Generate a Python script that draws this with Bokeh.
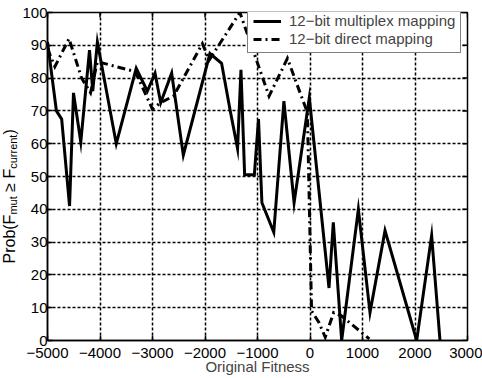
from bokeh.plotting import figure
from bokeh.layouts import row
from bokeh.models import Range1d, FixedTicker, Legend, LegendItem
from bokeh.core.properties import value
from bokeh.embed import file_html
from bokeh.resources import INLINE

# ---------------- data ----------------
x_multiplex = [-5000, -4830, -4730, -4580, -4505, -4366, -4200, -4138, -4050, -3690,
               -3310, -3098, -2952, -2844, -2635, -2413, -1906, -1684, -1525, -1380,
               -1315, -1245, -1060, -981, -916, -690, -497, -303, -13, 362,
               444, 603, 921, 1143, 1429, 2032, 2317, 2476]
y_multiplex = [91, 70, 67.5, 41, 75.5, 60.5, 88.5, 76, 91, 60,
               83, 76, 81.5, 72.5, 81.5, 56.5, 87.5, 84.5, 70.5, 58.5,
               82.5, 50.5, 50.5, 67.5, 42, 33, 73, 42, 74, 16,
               36, 0, 40, 8.5, 33.5, 0, 32, 0]

x_direct = [-5000, -4860, -4590, -4350, -4180, -4050, -3330, -3000, -2850, -2600,
            -2050, -1920, -1335, -780, -430, -50, 30, 170, 290, 450,
            600, 1130]
y_direct = [89, 83.5, 92, 80, 75.5, 85, 82, 70.5, 72.5, 74.5,
            90.5, 85.5, 100, 74.5, 86, 69.5, 9, 5.5, 1, 8.5,
            7.5, 0.5]

xtick_values = [-5000, -4000, -3000, -2000, -1000, 0, 1000, 2000, 3000]
xtick_labels = ["\u22125000", "\u22124000", "\u22123000", "\u22122000", "\u22121000",
                "0", "1000", "2000", "3000"]
ytick_values = [0, 10, 20, 30, 40, 50, 60, 70, 80, 90, 100]
ytick_labels = ["0", "10", "20", "30", "40", "50", "60", "70", "80", "90", "100"]

series_names = ["12\u2212bit multiplex mapping", "12\u2212bit direct mapping"]
x_label = "Original Fitness"
y_label_parts = ["Prob(F", "mut", "\u2265 F", "current", ")"]

# ---------------- style ----------------
FONT = "Liberation Sans"
FS = 15
YFS = 16
SUB = 11
X0, X1, Y0, Y1 = -5000, 3000, 0, 100
LW = 19           # width of the strip holding the y-axis label
H = 378
FRAME_W, FRAME_H = 420.0, 327.0

p = figure(width=482 - LW, height=H, x_range=Range1d(X0, X1), y_range=Range1d(Y0, Y1),
           output_backend="svg", toolbar_location=None,
           min_border_left=47 - LW, min_border_right=15, min_border_top=12, min_border_bottom=38)
p.frame_align = False
p.background_fill_color = "white"
p.border_fill_color = "white"
p.outline_line_color = "black"
p.outline_line_width = 1.5

def style_axis(ax):
    ax.axis_line_color = "black"
    ax.axis_line_width = 1.5
    ax.major_tick_in = 5
    ax.major_tick_out = 0
    ax.minor_tick_in = 0
    ax.minor_tick_out = 0
    ax.major_tick_line_color = "black"
    ax.major_tick_line_width = 1.5
    ax.major_label_text_font = FONT
    ax.major_label_text_color = "black"
    ax.major_label_text_font_size = f"{FS}px"

xax = p.xaxis[0]
yax = p.yaxis[0]
xax.ticker = FixedTicker(ticks=xtick_values)
yax.ticker = FixedTicker(ticks=ytick_values)
xax.major_label_overrides = {v: l for v, l in zip(xtick_values, xtick_labels)}
yax.major_label_overrides = {v: l for v, l in zip(ytick_values, ytick_labels)}
style_axis(xax)
style_axis(yax)
xax.major_label_standoff = 7
yax.major_label_standoff = 0
xax.axis_label = x_label
xax.axis_label_text_font = FONT
xax.axis_label_text_font_size = f"{FS}px"
xax.axis_label_text_font_style = "normal"
xax.axis_label_standoff = -3

for g, vals in ((p.xgrid[0], xtick_values), (p.ygrid[0], ytick_values)):
    g.ticker = FixedTicker(ticks=vals)
    g.grid_line_color = "black"
    g.grid_line_width = 1.5
    g.grid_line_dash = "3 2"
    g.grid_line_alpha = 1.0

# inward ticks on the top and right edges of the box
px_x = (X1 - X0) / FRAME_W
px_y = (Y1 - Y0) / FRAME_H
TICK = 5
p.segment(x0=xtick_values, y0=[Y1] * len(xtick_values), x1=xtick_values,
          y1=[Y1 - TICK * px_y] * len(xtick_values), line_color="black", line_width=1.5)
p.segment(x0=[X1] * len(ytick_values), y0=ytick_values, x1=[X1 - TICK * px_x] * len(ytick_values),
          y1=ytick_values, line_color="black", line_width=1.5)

r1 = p.line(x_multiplex, y_multiplex, line_color="black", line_width=3, line_join="miter")
r2 = p.line(x_direct, y_direct, line_color="black", line_width=3, line_join="miter",
            line_dash="8 4 2 4")

legend = Legend(items=[LegendItem(label=series_names[0], renderers=[r1]),
                       LegendItem(label=series_names[1], renderers=[r2])],
                location=(200, 287))
legend.label_text_font = FONT
legend.label_text_font_size = f"{FS}px"
legend.border_line_color = "black"
legend.border_line_width = 1.5
legend.background_fill_color = "white"
legend.background_fill_alpha = 1.0
legend.padding = 5
legend.spacing = 1
legend.glyph_width = 28
legend.glyph_height = 14
legend.label_height = 14
legend.label_standoff = 8
p.add_layout(legend)

# ---------------- y-axis label strip (rotated text with subscripts) ----------------
lab = figure(width=LW, height=H, x_range=Range1d(0, LW), y_range=Range1d(0, H),
             output_backend="svg", toolbar_location=None, min_border=0)
lab.frame_align = False
lab.axis.visible = False
lab.grid.visible = False
lab.outline_line_color = None
lab.background_fill_color = "white"
lab.border_fill_color = "white"

arial = {"P": 667, "r": 333, "o": 556, "b": 556, "(": 333, "F": 611, "m": 833, "u": 556,
         "t": 278, " ": 278, "\u2265": 549, "c": 500, "e": 556, "n": 556, ")": 333}
def tw(s, size):
    return sum(arial.get(ch, 556) for ch in s) * size / 1000.0

sizes = [YFS, SUB, YFS, SUB, YFS]
subs = [False, True, False, True, False]
gaps = [0, 0, tw(" ", YFS), 0, 0]
LABEL_X = 9.0           # centre line of the label (canvas px)
pos = H - 263.0         # start of the label, px above the bottom of the canvas
for part, size, sub, gap in zip(y_label_parts, sizes, subs, gaps):
    pos += gap
    lab.text(x=[LABEL_X + (3.5 if sub else 0)], y=[pos], text=[part], angle=90, angle_units="deg",
             text_font=value(FONT), text_font_size=value(f"{size}px"), text_color="black",
             text_align="left", text_baseline="middle")
    pos += tw(part, size)

layout = row(lab, p, spacing=0)
open("out.html", "w").write(file_html(layout, INLINE))
